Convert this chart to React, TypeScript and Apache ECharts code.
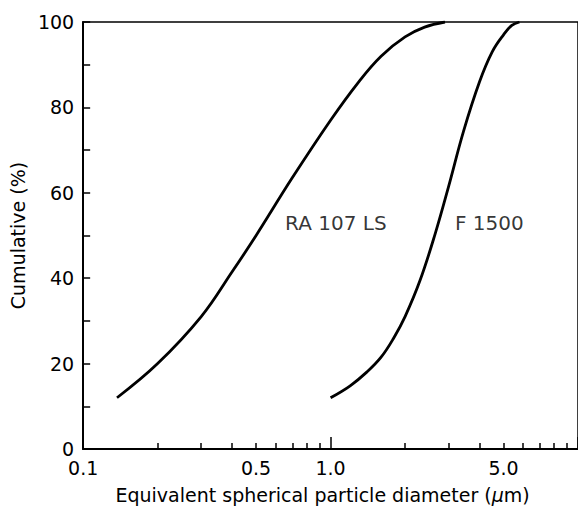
import React, { useEffect, useRef } from "react";
import * as echarts from "echarts";

const raX = [0.137, 0.2, 0.3, 0.4, 0.5, 0.7, 1.0, 1.3, 1.6, 2.0, 2.4, 2.9];
const raY = [12, 20, 31, 41.5, 50, 63.5, 77, 86, 92, 96.5, 98.8, 100];
const fX = [1.0, 1.2, 1.4, 1.6, 1.8, 2.0, 2.3, 2.65, 3.0, 3.45, 4.0, 4.5, 5.0, 5.4, 5.8];
const fY = [12, 14.8, 18, 21.5, 26, 31, 39.5, 50.5, 61.5, 74.5, 86, 93, 97, 99.2, 100];
const xLabelValues = [0.1, 0.5, 1, 5];
const xMinorTicks = [0.2, 0.3, 0.4, 0.5, 0.6, 0.7, 0.8, 0.9, 2, 3, 4, 5, 6, 7, 8, 9];
const xMajorTicks = [0.1, 1, 10];
const seriesNames = ["RA 107 LS", "F 1500"];
const labelPos = [[0.655, 53], [3.18, 53]];

const FONT = "DejaVu Sans";

export default function App() {
  const ref = useRef<HTMLDivElement>(null);
  useEffect(() => {
    const chart = echarts.init(ref.current!, null, { renderer: "svg" });
    const baseX = {
      type: "log",
      logBase: 10,
      min: 0.1,
      max: 10,
      gridIndex: 0,
      position: "bottom",
      splitLine: { show: false },
    };
    chart.setOption({
      animation: false,
      backgroundColor: "#fff",
      grid: {
        left: 71,
        top: 22,
        width: 536,
        height: 431,
        show: true,
        borderColor: "#000",
        borderWidth: 1.5,
      },
      xAxis: [
        {
          ...baseX,
          axisLine: { show: true, lineStyle: { color: "#000", width: 2 } },
          axisTick: {
            show: true,
            inside: true,
            length: 6,
            customValues: xMinorTicks,
            lineStyle: { color: "#000", width: 1.5 },
          },
          axisLabel: {
            show: true,
            customValues: xLabelValues,
            formatter: (v: number) => (v < 1 ? String(v) : v.toFixed(1)),
            color: "#000",
            fontFamily: FONT,
            fontSize: 19,
            margin: 9,
          },
          name: "{n|Equivalent spherical particle diameter (}{i|μ}{n|m)}",
          nameLocation: "middle",
          nameGap: 36,
          nameTextStyle: {
            padding: [0, 16, 0, 0],
            rich: {
              n: { fontFamily: FONT, fontSize: 19, color: "#000" },
              i: { fontFamily: FONT, fontSize: 19, color: "#000", fontStyle: "italic" },
            },
          },
        },
        {
          ...baseX,
          axisLine: { show: false },
          axisTick: {
            show: true,
            inside: true,
            length: 12,
            customValues: xMajorTicks,
            lineStyle: { color: "#000", width: 1.5 },
          },
          axisLabel: { show: false },
        },
      ],
      yAxis: {
        type: "value",
        min: 0,
        max: 100,
        interval: 20,
        splitLine: { show: false },
        axisLine: { show: true, lineStyle: { color: "#000", width: 2 } },
        axisTick: { show: true, inside: true, length: 7, lineStyle: { color: "#000", width: 1.5 } },
        minorTick: { show: true, splitNumber: 2, length: 7, lineStyle: { color: "#000", width: 1.5 } },
        axisLabel: { color: "#000", fontFamily: FONT, fontSize: 19, margin: 9 },
        name: "Cumulative (%)",
        nameLocation: "middle",
        nameGap: 40,
        nameTextStyle: { fontFamily: FONT, fontSize: 19, color: "#000" },
      },
      series: [
        {
          type: "line",
          name: seriesNames[0],
          smooth: 0.4,
          showSymbol: false,
          lineStyle: { color: "#000", width: 2.8 },
          data: raX.map((x, i) => [x, raY[i]]),
        },
        {
          type: "line",
          name: seriesNames[1],
          smooth: 0.4,
          showSymbol: false,
          lineStyle: { color: "#000", width: 2.8 },
          data: fX.map((x, i) => [x, fY[i]]),
        },
        {
          type: "scatter",
          symbolSize: 0,
          silent: true,
          data: labelPos.map((p, i) => [p[0], p[1], seriesNames[i]]),
          label: {
            show: true,
            position: "right",
            distance: 0,
            formatter: (p: any) => p.data[2],
            color: "#000",
            fontFamily: FONT,
            fontSize: 20,
          },
        },
      ],
    });
    return () => chart.dispose();
  }, []);
  return (
    <div
      ref={ref}
      style={{ position: "absolute", left: 0, top: 0, width: 578, height: 509 }}
    />
  );
}
